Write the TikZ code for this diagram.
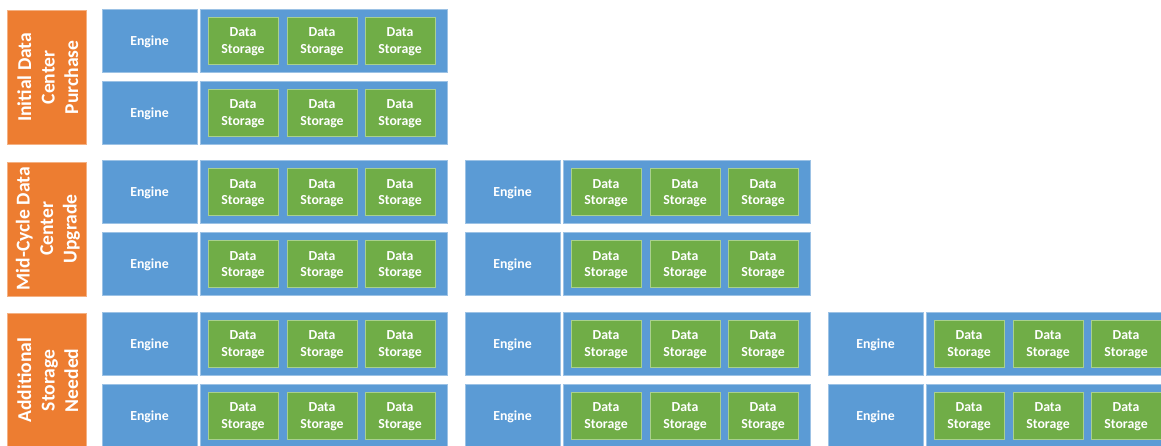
\documentclass[tikz,border=0pt]{standalone}
\usepackage{fontspec}
\newfontfamily\calfont{Carlito}
\definecolor{blu}{HTML}{5B9BD5}
\definecolor{blub}{HTML}{9CC2E5}
\definecolor{grn}{HTML}{70AD47}
\definecolor{grnb}{HTML}{A9D08E}
\definecolor{org}{HTML}{ED7D31}
\definecolor{orgb}{HTML}{F4B183}
\tikzset{
  box/.style={anchor=north west, inner sep=0pt, outer sep=0pt, text=white,
    font=\calfont\bfseries\fontsize{13.8}{16.7}\selectfont, align=center},
  enginebox/.style={box, fill=blu, draw=blub, line width=0.6pt, minimum width=95pt, minimum height=63pt},
  holderbox/.style={box, fill=blu, draw=blub, line width=0.6pt, minimum width=247pt, minimum height=63pt},
  storebox/.style={box, fill=grn, draw=grnb, line width=0.6pt, minimum width=70pt, minimum height=47pt},
  phasebox/.style={anchor=north west, inner sep=0pt, fill=org, draw=orgb, line width=0.6pt, minimum width=79pt, minimum height=134pt},
  phasetext/.style={text=white, rotate=90, align=center, inner sep=0pt,
    font=\calfont\bfseries\fontsize{19.6}{23.5}\selectfont},
  lbl/.style={text=white, align=center, inner sep=0pt,
    font=\calfont\bfseries\fontsize{13.8}{16.7}\selectfont}
}
\begin{document}
\begin{tikzpicture}[x=1pt,y=-1pt]
\useasboundingbox (0,0) rectangle (1161,445);
\clip (0,0) rectangle (1161,445);
\fill[white] (0,0) rectangle (1161,445);
% phase labels
\foreach \g/\txt in {1/{Initial Data\\Center\\Purchase},2/{Mid-Cycle Data\\Center\\Upgrade},3/{Additional\\Storage\\Needed}}{
  \pgfmathsetmacro{\gy}{9+151.5*(\g-1)}
  \node[phasebox] (phase\g) at (7,\gy+1) {};
  \node[phasetext] (phasetext\g) at ([xshift=1pt]phase\g.center) {\txt};
}
% rows
\foreach \g/\ncol in {1/1,2/2,3/3}{
  \foreach \r in {1,2}{
    \foreach \c in {1,...,\ncol}{
      \pgfmathsetmacro{\ry}{9+151.5*(\g-1)+72*(\r-1)}
      \pgfmathsetmacro{\cx}{102+363*(\c-1)}
      \node[enginebox] (eng-\g-\r-\c) at (\cx,\ry) {};
      \node[lbl] (engt-\g-\r-\c) at ([yshift=-1.2pt]eng-\g-\r-\c.center) {Engine};
      \node[holderbox] (hold-\g-\r-\c) at (\cx+98,\ry) {};
      \foreach \k/\dx in {1/106,2/185,3/263}{
        \node[storebox] (st-\g-\r-\c-\k) at (\cx+\dx,\ry+8) {};
        \node[lbl] (stt-\g-\r-\c-\k) at ([yshift=-1.2pt]st-\g-\r-\c-\k.center) {Data\\Storage};
      }
    }
  }
}
\end{tikzpicture}
\end{document}
